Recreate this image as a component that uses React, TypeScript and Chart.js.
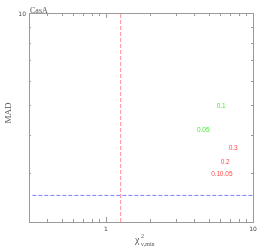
import React, { useEffect, useRef } from "react";
import { Chart, registerables } from "chart.js";

Chart.register(...registerables);

const titleText = "CasA";
const yTitle = "MAD";
const greenLabels = ["0.1", "0.05"];
const greenX = [6.08, 4.59];
const greenY = [4.98, 4.16];
const redLabels = ["0.3", "0.2", "0.1", "0.05"];
const redX = [7.33, 6.47, 5.58, 6.57];
const redY = [3.63, 3.27, 2.97, 2.97];
const refX = 1.26;
const refY = 2.54;
const xMajor = [1, 10];
const xMajorLabels = ["1", "10"];
const xMinor = [0.4, 0.5, 0.6, 0.7, 0.8, 0.9, 2, 3, 4, 5, 6, 7, 8, 9];
const yMajor = [10];
const yMajorLabels = ["10"];
const yMinor = [3, 4, 5, 6, 7, 8, 9];
const xRange = [0.3162, 10];
const yRange = [2.08, 10];

const framePlugin = {
  id: "framePlugin",
  afterDatasetsDraw(chart: any) {
    const ctx = chart.ctx;
    const { left, right, top, bottom } = chart.chartArea;
    const xs = chart.scales.x;
    const ys = chart.scales.y;
    ctx.save();
    ctx.setLineDash([]);
    // frame
    ctx.strokeStyle = "#9a9a9a";
    ctx.lineWidth = 1;
    ctx.strokeRect(left + 0.5, top + 0.5, right - left, bottom - top);
    const tick = (vals: number[], len: number) => {
      vals.forEach((v) => {
        const px = Math.round(xs.getPixelForValue(v)) + 0.5;
        ctx.beginPath();
        ctx.moveTo(px, bottom);
        ctx.lineTo(px, bottom - len);
        ctx.moveTo(px, top);
        ctx.lineTo(px, top + len);
        ctx.stroke();
      });
    };
    tick(xMinor, 3);
    tick(xMajor, 5);
    const ytick = (vals: number[], len: number) => {
      vals.forEach((v) => {
        const py = Math.round(ys.getPixelForValue(v)) + 0.5;
        ctx.beginPath();
        ctx.moveTo(left, py);
        ctx.lineTo(left + len, py);
        ctx.moveTo(right, py);
        ctx.lineTo(right - len, py);
        ctx.stroke();
      });
    };
    ytick(yMinor, 2);
    ytick(yMajor, 4);
    // tick labels
    ctx.fillStyle = "#444";
    ctx.font = "6px 'DejaVu Sans'";
    ctx.textAlign = "center";
    ctx.textBaseline = "middle";
    xMajor.forEach((v, i) => {
      ctx.fillText(xMajorLabels[i], xs.getPixelForValue(v), bottom + 7);
    });
    ctx.textAlign = "right";
    yMajor.forEach((v, i) => {
      ctx.fillText(yMajorLabels[i], left - 3, ys.getPixelForValue(v) + 1);
    });
    // title
    ctx.fillStyle = "#555";
    ctx.font = "8px 'Liberation Serif'";
    ctx.textAlign = "left";
    ctx.textBaseline = "alphabetic";
    ctx.fillText(titleText, left + 1, top);
    // y title
    ctx.save();
    ctx.translate(11, 113);
    ctx.rotate(-Math.PI / 2);
    ctx.font = "9px 'Liberation Serif'";
    ctx.textAlign = "center";
    ctx.textBaseline = "alphabetic";
    ctx.fillText(yTitle, 0, 0);
    ctx.restore();
    // x title: chi^2_{nu,min}
    ctx.textAlign = "left";
    ctx.font = "10px 'Liberation Serif'";
    ctx.fillText("\u03c7", 135, 243);
    ctx.font = "6px 'Liberation Serif'";
    ctx.fillText("2", 141, 238);
    ctx.fillText("\u03bd,min", 141, 246);
    // point labels
    ctx.font = "6.5px 'Liberation Sans'";
    ctx.textAlign = "center";
    ctx.textBaseline = "middle";
    chart.data.datasets.forEach((ds: any, di: number) => {
      if (!ds.labels) return;
      const meta = chart.getDatasetMeta(di);
      ctx.fillStyle = ds.textColor;
      meta.data.forEach((el: any, i: number) => {
        ctx.fillText(ds.labels[i], el.x, el.y);
      });
    });
    ctx.restore();
  },
};

export default function App() {
  const ref = useRef<HTMLCanvasElement>(null);
  useEffect(() => {
    document.body.style.margin = "0";
    const chart = new Chart(ref.current as HTMLCanvasElement, {
      type: "scatter",
      data: {
        datasets: [
          {
            type: "line",
            data: [
              { x: refX, y: yRange[0] },
              { x: refX, y: yRange[1] },
            ],
            borderColor: "#ff9090",
            borderWidth: 1,
            borderDash: [4, 2],
            pointRadius: 0,
            showLine: true,
          } as any,
          {
            type: "line",
            data: [
              { x: xRange[0], y: refY },
              { x: xRange[1], y: refY },
            ],
            borderColor: "#8080ff",
            borderWidth: 1,
            borderDash: [4, 2],
            pointRadius: 0,
            showLine: true,
          } as any,
          {
            data: greenX.map((x, i) => ({ x, y: greenY[i] })),
            labels: greenLabels,
            textColor: "#44ee33",
            pointRadius: 0,
          } as any,
          {
            data: redX.map((x, i) => ({ x, y: redY[i] })),
            labels: redLabels,
            textColor: "#ff4d4d",
            pointRadius: 0,
          } as any,
        ],
      },
      options: {
        animation: false,
        responsive: false,
        layout: { padding: { left: 29, top: 13, right: 13, bottom: 27 } },
        plugins: { legend: { display: false }, tooltip: { enabled: false } },
        scales: {
          x: { type: "logarithmic", min: xRange[0], max: xRange[1], display: false },
          y: { type: "logarithmic", min: yRange[0], max: yRange[1], display: false },
        },
      },
      plugins: [framePlugin],
    });
    return () => chart.destroy();
  }, []);
  return <canvas ref={ref} width={266} height={249} style={{ display: "block" }} />;
}
